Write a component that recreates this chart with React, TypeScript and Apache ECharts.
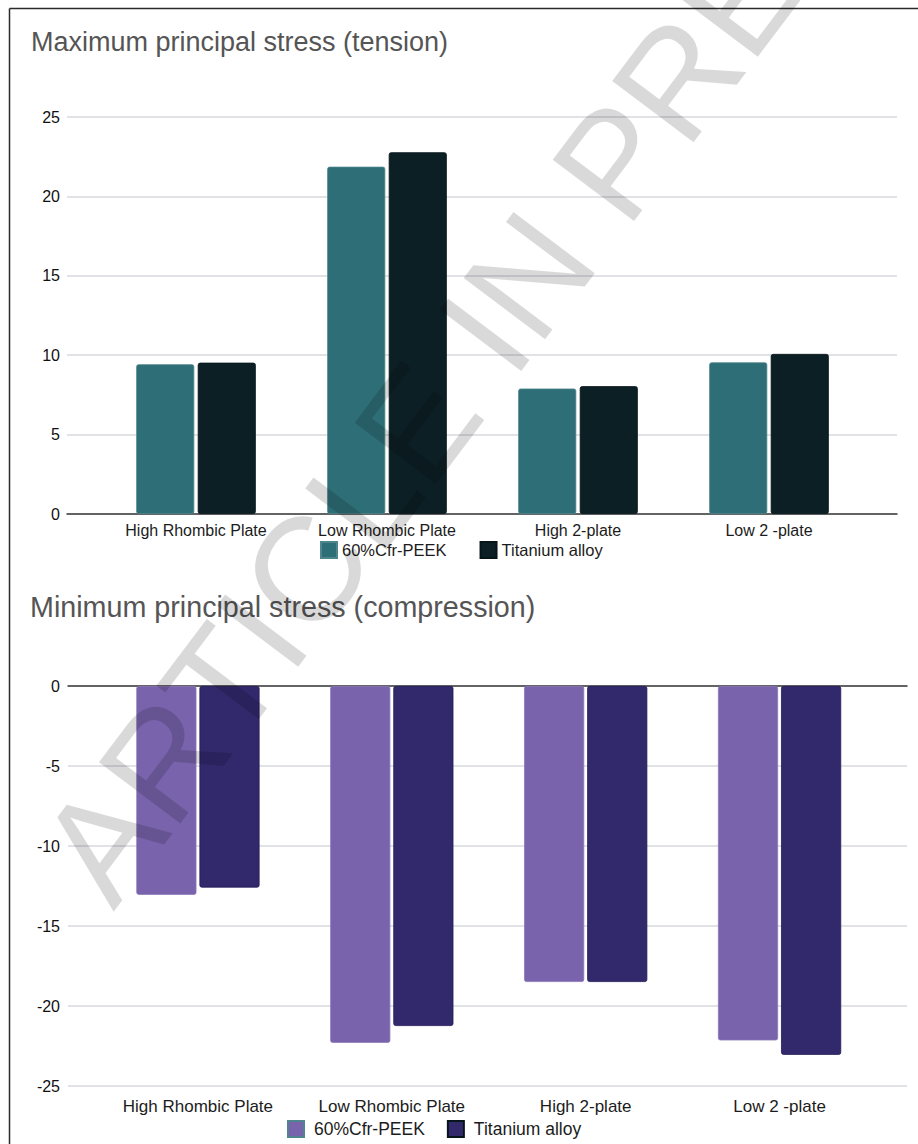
import React, { useEffect, useRef } from "react";
import * as echarts from "echarts";

const categories = ["High Rhombic Plate", "Low Rhombic Plate", "High 2-plate", "Low 2 -plate"];
const seriesNames = ["60%Cfr-PEEK", "Titanium alloy"];
const tensionPeek = [9.43, 21.87, 7.9, 9.55];
const tensionTi = [9.53, 22.78, 8.05, 10.08];
const compressionPeek = [-13.05, -22.3, -18.5, -22.15];
const compressionTi = [-12.6, -21.25, -18.5, -23.05];
const tensionRange = { min: 0, max: 25, step: 5 };
const compressionRange = { min: -25, max: 0, step: 5 };
const titleTop = "Maximum principal stress (tension)";
const titleBottom = "Minimum principal stress (compression)";
const watermark = "ARTICLE IN PRESS";

const TEAL = "#2e6e76";
const DARK_TEAL = "#0c1f25";
const LIGHT_PURPLE = "#7863ac";
const DARK_PURPLE = "#32296d";
const FONT = "'Liberation Sans', Arial, Helvetica, sans-serif";
const GRID_LINE = "#d6d9dc";
const AXIS_LINE = "#3a3a3a";

export default function App() {
  const ref = useRef<HTMLDivElement>(null);

  useEffect(() => {
    if (!ref.current) return;
    const chart = echarts.init(ref.current, undefined, { renderer: "svg" });

    const hiddenValueAxis = (gridIndex: number, r: { min: number; max: number; step: number }) => ({
      type: "value",
      gridIndex,
      min: r.min,
      max: r.max,
      interval: r.step,
      axisLine: { show: false },
      axisTick: { show: false },
      axisLabel: { show: false },
      splitLine: { show: false },
    });

    const labelledValueAxis = (gridIndex: number, r: { min: number; max: number; step: number }, margin: number) => ({
      type: "value",
      gridIndex,
      min: r.min,
      max: r.max,
      interval: r.step,
      axisLine: { show: false },
      axisTick: { show: false },
      axisLabel: { color: "#111111", fontSize: 16, fontFamily: FONT, margin },
      splitLine: { show: true, lineStyle: { color: GRID_LINE, width: 1.5 } },
    });

    const baseLineAxis = (gridIndex: number) => ({
      type: "value",
      gridIndex,
      min: 0,
      max: 1,
      axisLine: { show: true, onZero: true, lineStyle: { color: AXIS_LINE, width: 1.5 } },
      axisTick: { show: false },
      axisLabel: { show: false },
      splitLine: { show: false },
    });

    const categoryAxis = (gridIndex: number, fontSize: number, margin: number) => ({
      type: "category",
      gridIndex,
      data: categories,
      position: "bottom",
      axisLine: { show: false, onZero: false },
      axisTick: { show: false },
      axisLabel: { color: "#1c1c1c", fontSize, fontFamily: FONT, margin, interval: 0 },
      splitLine: { show: false },
    });

    const barItem = (color: string, border: string) => ({
      color,
      borderColor: border,
      borderWidth: 0.8,
      borderRadius: 2,
    });

    const option: any = {
      animation: false,
      backgroundColor: "#ffffff",
      title: [
        {
          text: titleTop,
          left: 31,
          top: 28,
          padding: 0,
          textStyle: { color: "#555555", fontSize: 27, fontWeight: "normal", fontFamily: FONT },
        },
        {
          text: titleBottom,
          left: 30,
          top: 592,
          padding: 0,
          textStyle: { color: "#555555", fontSize: 28.7, fontWeight: "normal", fontFamily: FONT },
        },
      ],
      legend: [
        {
          left: 320,
          top: 541,
          padding: 0,
          itemWidth: 16,
          itemHeight: 16,
          itemGap: 33,
          icon: "rect",
          selectedMode: false,
          textStyle: { color: "#1c1c1c", fontSize: 16.5, fontFamily: FONT },
          data: [
            { name: seriesNames[0], itemStyle: { color: TEAL } },
            { name: seriesNames[1], itemStyle: { color: DARK_TEAL } },
          ],
        },
        {
          left: 287,
          top: 1120,
          padding: 0,
          itemWidth: 16,
          itemHeight: 16,
          itemGap: 22,
          icon: "rect",
          selectedMode: false,
          textStyle: { color: "#1c1c1c", fontSize: 17.5, fontFamily: FONT, padding: [0, 0, 0, 5] },
          data: [
            { name: seriesNames[0], itemStyle: { color: LIGHT_PURPLE } },
            { name: seriesNames[1], itemStyle: { color: DARK_PURPLE } },
          ],
        },
      ],
      grid: [
        { left: 67, right: 21, top: 117, bottom: 1144 - 514 },
        { left: 100.5, right: 918 - 864.5, top: 117, bottom: 1144 - 514 },
        { left: 68, right: 11, top: 686, bottom: 1144 - 1086 },
        { left: 101, right: 918 - 876.5, top: 686, bottom: 1144 - 1086 },
      ],
      xAxis: [
        baseLineAxis(0),
        categoryAxis(1, 16, 8),
        baseLineAxis(2),
        categoryAxis(3, 17, 12),
      ],
      yAxis: [
        labelledValueAxis(0, tensionRange, 7),
        hiddenValueAxis(1, tensionRange),
        labelledValueAxis(2, compressionRange, 8),
        hiddenValueAxis(3, compressionRange),
      ],
      series: [
        {
          type: "bar",
          name: seriesNames[0],
          xAxisIndex: 1,
          yAxisIndex: 1,
          data: tensionPeek,
          barWidth: "30.4%",
          barGap: "6%",
          itemStyle: barItem(TEAL, "#4f868d"),
        },
        {
          type: "bar",
          name: seriesNames[1],
          xAxisIndex: 1,
          yAxisIndex: 1,
          data: tensionTi,
          barWidth: "30.4%",
          barGap: "6%",
          itemStyle: barItem(DARK_TEAL, "#06151a"),
        },
        {
          type: "bar",
          name: seriesNames[0],
          xAxisIndex: 3,
          yAxisIndex: 3,
          data: compressionPeek,
          barWidth: "31%",
          barGap: "5%",
          itemStyle: barItem(LIGHT_PURPLE, "#8a76b8"),
        },
        {
          type: "bar",
          name: seriesNames[1],
          xAxisIndex: 3,
          yAxisIndex: 3,
          data: compressionTi,
          barWidth: "31%",
          barGap: "5%",
          itemStyle: barItem(DARK_PURPLE, "#221a55"),
        },
      ],
      graphic: [
        {
          type: "line",
          silent: true,
          z: 50,
          shape: { x1: 9.5, y1: 8.5, x2: 918, y2: 8.5 },
          style: { stroke: "#2a2a2a", lineWidth: 1.5 },
        },
        {
          type: "line",
          silent: true,
          z: 50,
          shape: { x1: 9.5, y1: 8.5, x2: 9.5, y2: 1144 },
          style: { stroke: "#2a2a2a", lineWidth: 1.5 },
        },
        {
          type: "text",
          silent: true,
          z: 100,
          x: 480,
          y: 340,
          rotation: (53 * Math.PI) / 180,
          style: {
            text: watermark,
            fontSize: 148,
            fontFamily: FONT,
            fill: "rgba(0,0,0,0.15)",
            textAlign: "center",
            textVerticalAlign: "middle",
          },
        },
      ],
    };

    chart.setOption(option);
    return () => chart.dispose();
  }, []);

  return (
    <div
      ref={ref}
      style={{ position: "absolute", left: 0, top: 0, width: 918, height: 1144, background: "#fff" }}
    />
  );
}
